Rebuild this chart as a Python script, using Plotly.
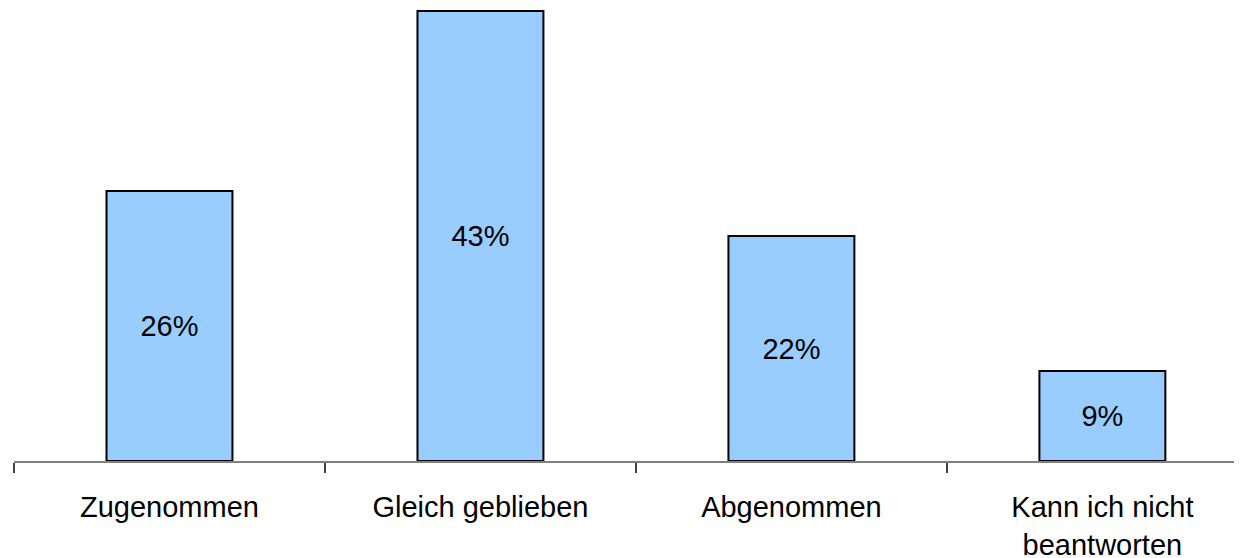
import plotly.graph_objects as go

categories = ["Zugenommen", "Gleich geblieben", "Abgenommen", "Kann ich nicht<br>beantworten"]
values = [25.8, 43.0, 21.5, 8.6]
value_labels = ["26%", "43%", "22%", "9%"]

FONT = "Liberation Sans, Arial, sans-serif"

fig = go.Figure(
    go.Bar(
        x=categories,
        y=values,
        text=value_labels,
        textposition="inside",
        insidetextanchor="middle",
        textangle=0,
        textfont=dict(family=FONT, size=29, color="#000000"),
        marker=dict(color="#99CCFF", line=dict(color="#000000", width=2)),
        cliponaxis=False,
    )
)

fig.update_layout(
    width=1234,
    height=550,
    margin=dict(l=6, r=0, t=0, b=97),
    paper_bgcolor="white",
    plot_bgcolor="white",
    bargap=0.595,
    showlegend=False,
    font=dict(family=FONT, size=29, color="#000000"),
)
fig.update_xaxes(
    type="category",
    range=[-0.5, 3.449],
    automargin=False,
    showline=True,
    linecolor="#808080",
    linewidth=2,
    ticks="outside",
    tickson="boundaries",
    ticklen=10,
    tickwidth=1.5,
    tickcolor="#404040",
    ticklabelstandoff=19,
    showgrid=False,
    tickfont=dict(family=FONT, size=29, color="#000000"),
    fixedrange=True,
)
fig.update_yaxes(
    range=[0, 43.29],
    visible=False,
    automargin=False,
    showgrid=False,
    zeroline=False,
    fixedrange=True,
)

fig.write_html("out.html", config={"displayModeBar": False})
